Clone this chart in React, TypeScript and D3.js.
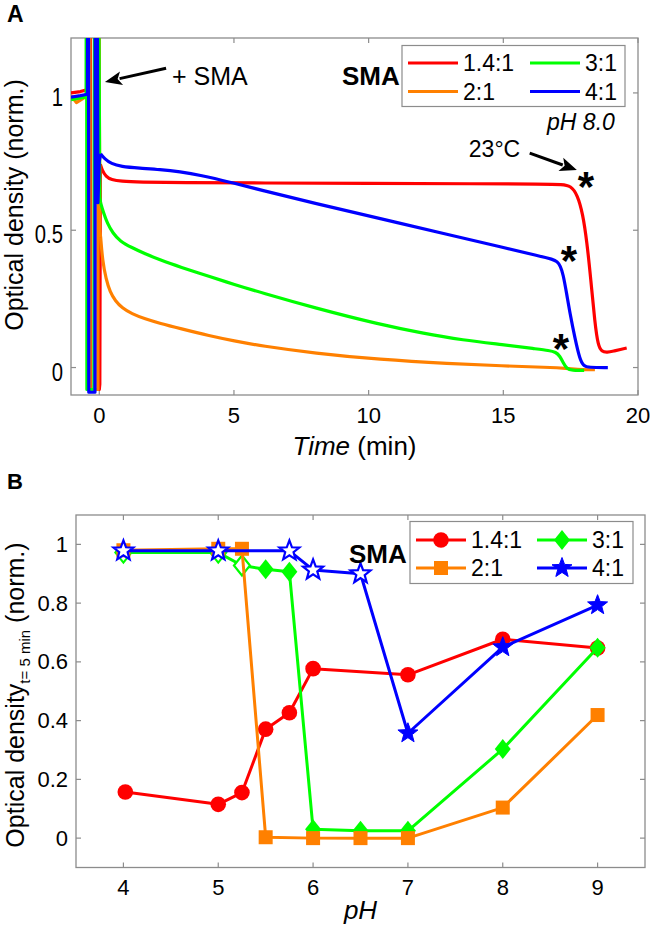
import React from 'react';
import * as d3 from 'd3';

const FONT = "'Liberation Sans', Arial, Helvetica, sans-serif";
const AXIS = '#8c8c8c';

// ---------- shared series ----------
const seriesLabels = ['1.4:1', '2:1', '3:1', '4:1'];
const seriesColors = ['#ff0000', '#ff8000', '#00ff00', '#0000ff'];

// ---------- Panel A: time traces [t (min), OD norm.] ----------
// mixing artefact right after SMA addition (drawn with straight segments)
const spikeRed: [number, number][] = [
  [-1.05, 1.0], [-0.7, 1.005], [-0.43, 1.012], [-0.42, 1.6], [-0.33, 1.6], [-0.32, -0.08],
  [-0.04, -0.08], [-0.03, 1.6], [-0.02, 1.6], [0.0, -0.08], [0.02, -0.06], [0.04, 0.74],
];
const decayRed: [number, number][] = [
  [0.04, 0.74], [0.1, 0.72], [0.25, 0.695], [0.45, 0.684], [0.8, 0.678], [1.5, 0.675], [3, 0.673],
  [6, 0.672], [10, 0.671], [14, 0.669], [16.5, 0.668], [17.2, 0.667], [17.5, 0.662], [17.75, 0.63],
  [17.95, 0.56], [18.1, 0.46], [18.25, 0.32], [18.4, 0.16], [18.52, 0.08], [18.65, 0.058],
  [18.85, 0.055], [19.1, 0.06], [19.35, 0.066], [19.58, 0.071],
];
const spikeOrange: [number, number][] = [
  [-1.05, 0.99], [-0.85, 0.965], [-0.6, 0.98], [-0.44, 0.99], [-0.43, 1.6], [-0.35, 1.6],
  [-0.34, -0.08], [-0.05, -0.08], [-0.04, 1.6], [-0.02, 1.6], [0.02, 0.5], [0.05, 0.475],
];
const decayOrange: [number, number][] = [
  [0.05, 0.475], [0.12, 0.39], [0.25, 0.322], [0.4, 0.275], [0.6, 0.242], [0.85, 0.217],
  [1.2, 0.196], [1.7, 0.177], [2.25, 0.161], [3, 0.142], [4.1, 0.115], [5, 0.097], [6, 0.079],
  [8, 0.052], [10.4, 0.029], [13, 0.014], [15, 0.006], [16.6, 0.001], [17.5, -0.004],
  [18.0, -0.008], [18.4, -0.008],
];
const spikeGreen: [number, number][] = [
  [-1.05, 0.975], [-0.8, 0.98], [-0.49, 0.985], [-0.48, 1.6], [-0.47, 1.6], [-0.46, -0.08],
  [-0.2, -0.08], [-0.19, 0.85], [-0.17, 1.6], [-0.03, 1.6], [0.02, 0.62], [0.05, 0.6],
];
const decayGreen: [number, number][] = [
  [0.05, 0.6], [0.15, 0.565], [0.3, 0.525], [0.5, 0.49], [0.77, 0.46], [1.2, 0.437],
  [1.7, 0.414], [2.25, 0.392], [3, 0.366], [4.1, 0.331], [5, 0.303], [6, 0.273], [8, 0.217],
  [10.4, 0.157], [12, 0.125], [13.5, 0.1], [15, 0.083], [16.2, 0.068], [16.7, 0.062],
  [16.95, 0.056], [17.1, 0.042], [17.22, 0.018], [17.35, -0.004], [17.55, -0.011],
  [18.0, -0.01],
];
const spikeBlue: [number, number][] = [
  [-1.05, 0.985], [-0.7, 0.99], [-0.44, 0.995], [-0.43, 1.6], [-0.4, 1.6], [-0.39, -0.09],
  [-0.16, -0.09], [-0.15, 1.6], [-0.08, 1.6], [-0.05, 0.6], [0.0, 0.75], [0.05, 0.778],
];
const decayBlue: [number, number][] = [
  [0.05, 0.778], [0.2, 0.76], [0.45, 0.742], [0.8, 0.732], [1.5, 0.726], [2.25, 0.721],
  [3, 0.713], [3.74, 0.701], [4.9, 0.674], [5.97, 0.647], [8, 0.598], [10.4, 0.543],
  [13, 0.483], [15, 0.437], [16.3, 0.407], [16.85, 0.394], [17.0, 0.386], [17.12, 0.37],
  [17.22, 0.34], [17.35, 0.27], [17.47, 0.2], [17.66, 0.106], [17.84, 0.03], [17.98, 0.006],
  [18.15, 0.0], [18.88, 0.0],
];
const spikesA = [spikeRed, spikeOrange, spikeGreen, spikeBlue];
const decaysA = [decayRed, decayOrange, decayGreen, decayBlue];
const timeTicks = [0, 5, 10, 15, 20];
const odTicksA = [0, 0.5, 1];
const odTickLabelsA = ['0', '0.5', '1'];
// asterisk positions [t, OD]
const asterisks: [number, number][] = [[18.07, 0.694], [17.44, 0.424], [17.14, 0.104]];

// ---------- Panel B: OD at t = 5 min vs pH ----------
const phRed = [4.02, 5.0, 5.25, 5.5, 5.75, 6.0, 7.0, 8.0, 9.0];
const odRed = [0.157, 0.115, 0.155, 0.371, 0.427, 0.577, 0.556, 0.677, 0.647];
const hollowRed = [false, false, false, false, false, false, false, false, false];

const phOrange = [4.0, 5.0, 5.25, 5.5, 6.0, 6.5, 7.0, 8.0, 9.0];
const odOrange = [0.98, 0.985, 0.985, 0.003, 0.0, 0.0, 0.0, 0.104, 0.419];
const hollowOrange = [false, false, false, false, false, false, false, false, false];

const phGreen = [4.0, 5.0, 5.25, 5.5, 5.75, 6.0, 6.5, 7.0, 8.0, 9.0];
const odGreen = [0.972, 0.972, 0.928, 0.915, 0.907, 0.03, 0.025, 0.025, 0.303, 0.648];
const hollowGreen = [true, true, true, false, false, false, false, false, false, false];

const phBlue = [4.0, 5.0, 5.75, 6.0, 6.5, 7.0, 8.0, 9.0];
const odBlue = [0.978, 0.978, 0.978, 0.913, 0.9, 0.357, 0.65, 0.793];
const hollowBlue = [true, true, true, true, true, false, false, false];

const phTicks = [4, 5, 6, 7, 8, 9];
const odTicksB = [0, 0.2, 0.4, 0.6, 0.8, 1];
const odTickLabelsB = ['0', '0.2', '0.4', '0.6', '0.8', '1'];

// ---------- geometry ----------
const A = { left: 71, right: 638, top: 38, bottom: 395 };
const B = { left: 76, right: 645, top: 515, bottom: 867.5 };

const xA = d3.scaleLinear().domain([-1.05, 20]).range([A.left, A.right]);
const yA = d3.scaleLinear().domain([-0.1, 1.2]).range([A.bottom, A.top]);
const xB = d3.scaleLinear().domain([3.5, 9.5]).range([B.left, B.right]);
const yB = d3.scaleLinear().domain([-0.1, 1.1]).range([B.bottom, B.top]);

type Shape = 'circle' | 'square' | 'diamond' | 'star';
const shapes: Shape[] = ['circle', 'square', 'diamond', 'star'];

function starPath(cx: number, cy: number, R: number) {
  const r = R * 0.42;
  const pts: string[] = [];
  for (let i = 0; i < 10; i++) {
    const ang = -Math.PI / 2 + (i * Math.PI) / 5;
    const rad = i % 2 === 0 ? R : r;
    pts.push(`${cx + rad * Math.cos(ang)},${cy + rad * Math.sin(ang)}`);
  }
  return 'M' + pts.join('L') + 'Z';
}

function Marker({ shape, cx, cy, color, hollow }: { shape: Shape; cx: number; cy: number; color: string; hollow: boolean }) {
  const fill = hollow ? '#ffffff' : color;
  const sw = hollow ? 2.2 : 0;
  if (shape === 'circle') return <circle cx={cx} cy={cy} r={7.8} fill={fill} stroke={color} strokeWidth={sw} />;
  if (shape === 'square') return <rect x={cx - 7} y={cy - 7} width={14} height={14} fill={fill} stroke={color} strokeWidth={sw} />;
  if (shape === 'diamond')
    return <path d={`M${cx},${cy - 10}L${cx + 8},${cy}L${cx},${cy + 10}L${cx - 8},${cy}Z`} fill={fill} stroke={color} strokeWidth={sw} strokeLinejoin="miter" />;
  return <path d={starPath(cx, cy, 10.5)} fill={fill} stroke={color} strokeWidth={hollow ? 2.2 : 1} strokeLinejoin="miter" />;
}

function Arrow({ x1, y1, x2, y2 }: { x1: number; y1: number; x2: number; y2: number }) {
  const ang = Math.atan2(y2 - y1, x2 - x1);
  const L = 17, Wd = 7;
  const bx = x2 - L * Math.cos(ang), by = y2 - L * Math.sin(ang);
  const px = -Math.sin(ang) * Wd, py = Math.cos(ang) * Wd;
  return (
    <g>
      <line x1={x1} y1={y1} x2={bx + 2 * Math.cos(ang)} y2={by + 2 * Math.sin(ang)} stroke="#000" strokeWidth={3} />
      <path d={`M${x2},${y2}L${bx + px},${by + py}L${bx + Math.cos(ang) * 4},${by + Math.sin(ang) * 4}L${bx - px},${by - py}Z`} fill="#000" />
    </g>
  );
}

export default function App() {
  const spikeLine = d3
    .line<[number, number]>()
    .x((d) => xA(d[0]))
    .y((d) => yA(d[1]));
  const decayLine = d3
    .line<[number, number]>()
    .x((d) => xA(d[0]))
    .y((d) => yA(d[1]))
    .curve(d3.curveBasis);

  const lineB = d3
    .line<[number, number]>()
    .x((d) => xB(d[0]))
    .y((d) => yB(d[1]));

  const seriesB = [
    { ph: phRed, od: odRed, hollow: hollowRed, i: 0 },
    { ph: phGreen, od: odGreen, hollow: hollowGreen, i: 2 },
    { ph: phOrange, od: odOrange, hollow: hollowOrange, i: 1 },
    { ph: phBlue, od: odBlue, hollow: hollowBlue, i: 3 },
  ];

  const tick = 5;

  return (
    <svg width={650} height={928} style={{ position: 'absolute', left: 0, top: 0, background: '#fff' }} fontFamily={FONT}>
      <defs>
        <clipPath id="clipA">
          <rect x={A.left} y={A.top} width={A.right - A.left} height={A.bottom - A.top} />
        </clipPath>
      </defs>
      <rect x={0} y={0} width={650} height={928} fill="#fff" />

      {/* ================= Panel A ================= */}
      <text x={7} y={22} fontSize={23} fontWeight="bold">A</text>
      <rect x={A.left} y={A.top} width={A.right - A.left} height={A.bottom - A.top} fill="none" stroke={AXIS} strokeWidth={1.3} />
      {timeTicks.map((t) => (
        <g key={'ta' + t}>
          <line x1={xA(t)} x2={xA(t)} y1={A.bottom} y2={A.bottom - tick} stroke={AXIS} strokeWidth={1.2} />
          <line x1={xA(t)} x2={xA(t)} y1={A.top} y2={A.top + tick} stroke={AXIS} strokeWidth={1.2} />
          <text x={xA(t)} y={423} fontSize={22} textAnchor="middle">{t}</text>
        </g>
      ))}
      {odTicksA.map((v, i) => (
        <g key={'oa' + v}>
          <line x1={A.left} x2={A.left + tick} y1={yA(v)} y2={yA(v)} stroke={AXIS} strokeWidth={1.2} />
          <line x1={A.right} x2={A.right - tick} y1={yA(v)} y2={yA(v)} stroke={AXIS} strokeWidth={1.2} />
          <text transform={`translate(63,${yA(v) + 13}) scale(0.78,1)`} fontSize={26} textAnchor="end">{odTickLabelsA[i]}</text>
        </g>
      ))}
      <text transform="translate(23,205) rotate(-90)" fontSize={25} textAnchor="middle">Optical density (norm.)</text>
      <text x={(A.left + A.right) / 2} y={455} fontSize={26} textAnchor="middle">
        <tspan fontStyle="italic">Time</tspan> (min)
      </text>

      <g clipPath="url(#clipA)">
        {spikesA.map((tr, i) => (
          <g key={'tr' + i}>
            <path d={spikeLine(tr) || ''} fill="none" stroke={seriesColors[i]} strokeWidth={3.2} strokeLinejoin="round" />
            <path d={decayLine(decaysA[i]) || ''} fill="none" stroke={seriesColors[i]} strokeWidth={3.2} strokeLinejoin="round" />
          </g>
        ))}
      </g>

      {/* annotations A */}
      <Arrow x1={xA(2.48)} y1={yA(1.09)} x2={xA(0.21)} y2={yA(1.04)} />
      <text x={xA(2.7)} y={yA(1.03)} fontSize={25}>+ SMA</text>
      <text x={xA(13.72)} y={yA(0.767)} fontSize={23}>23°C</text>
      <Arrow x1={xA(15.98)} y1={yA(0.781)} x2={xA(17.73)} y2={yA(0.719)} />
      {asterisks.map((a, i) => (
        <text key={'ast' + i} x={xA(a[0])} y={yA(a[1]) + 24} fontSize={42} fontWeight="bold" textAnchor="middle">*</text>
      ))}
      <text x={xA(19.14)} y={yA(0.865)} fontSize={23} fontStyle="italic" textAnchor="end">pH 8.0</text>
      <text x={342} y={85} fontSize={26} fontWeight="bold">SMA</text>

      {/* legend A */}
      <rect x={402} y={45.5} width={223} height={61} fill="#fff" stroke={AXIS} strokeWidth={1.2} />
      {seriesLabels.map((lab, i) => {
        const col = i === 0 || i === 1 ? 0 : 1;
        const row = i === 0 || i === 2 ? 0 : 1;
        const lx = col === 0 ? 408 : 530;
        const ly = row === 0 ? 63 : 91.5;
        return (
          <g key={'lga' + i}>
            <line x1={lx} x2={lx + 50} y1={ly} y2={ly} stroke={seriesColors[i]} strokeWidth={3.2} />
            <text x={lx + 55} y={ly + 8} fontSize={23}>{lab}</text>
          </g>
        );
      })}

      {/* ================= Panel B ================= */}
      <text x={7} y={489} fontSize={22} fontWeight="bold">B</text>
      <rect x={B.left} y={B.top} width={B.right - B.left} height={B.bottom - B.top} fill="none" stroke={AXIS} strokeWidth={1.3} />
      {phTicks.map((p) => (
        <g key={'pb' + p}>
          <line x1={xB(p)} x2={xB(p)} y1={B.bottom} y2={B.bottom - tick} stroke={AXIS} strokeWidth={1.2} />
          <line x1={xB(p)} x2={xB(p)} y1={B.top} y2={B.top + tick} stroke={AXIS} strokeWidth={1.2} />
          <text x={xB(p)} y={895} fontSize={22} textAnchor="middle">{p}</text>
        </g>
      ))}
      {odTicksB.map((v, i) => (
        <g key={'ob' + v}>
          <line x1={B.left} x2={B.left + tick} y1={yB(v)} y2={yB(v)} stroke={AXIS} strokeWidth={1.2} />
          <line x1={B.right} x2={B.right - tick} y1={yB(v)} y2={yB(v)} stroke={AXIS} strokeWidth={1.2} />
          <text x={68} y={yB(v) + 7.5} fontSize={22} textAnchor="end">{odTickLabelsB[i]}</text>
        </g>
      ))}
      <text transform="translate(23.5,695) rotate(-90)" fontSize={25} textAnchor="middle">
        Optical density<tspan fontSize={15} dy={6}>t= 5 min</tspan><tspan dy={-6}> (norm.)</tspan>
      </text>
      <text x={(B.left + B.right) / 2} y={919} fontSize={26} textAnchor="middle" fontStyle="italic">pH</text>

      {seriesB.map((s) => {
        const pts = s.ph.map((p, j) => [p, s.od[j]] as [number, number]);
        return (
          <g key={'sb' + s.i}>
            <path d={lineB(pts) || ''} fill="none" stroke={seriesColors[s.i]} strokeWidth={3} strokeLinejoin="round" />
            {pts.map((d, j) => (
              <Marker key={j} shape={shapes[s.i]} cx={xB(d[0])} cy={yB(d[1])} color={seriesColors[s.i]} hollow={s.hollow[j]} />
            ))}
          </g>
        );
      })}

      <text x={349} y={563} fontSize={26} fontWeight="bold">SMA</text>
      {/* legend B */}
      <rect x={410} y={521.5} width={223} height={62} fill="#fff" stroke={AXIS} strokeWidth={1.2} />
      {seriesLabels.map((lab, i) => {
        const col = i === 0 || i === 1 ? 0 : 1;
        const row = i === 0 || i === 2 ? 0 : 1;
        const lx = col === 0 ? 416 : 537;
        const ly = row === 0 ? 540 : 568;
        return (
          <g key={'lgb' + i}>
            <line x1={lx} x2={lx + 50} y1={ly} y2={ly} stroke={seriesColors[i]} strokeWidth={3} />
            <Marker shape={shapes[i]} cx={lx + 25} cy={ly} color={seriesColors[i]} hollow={false} />
            <text x={lx + 55} y={ly + 8} fontSize={23}>{lab}</text>
          </g>
        );
      })}
    </svg>
  );
}
